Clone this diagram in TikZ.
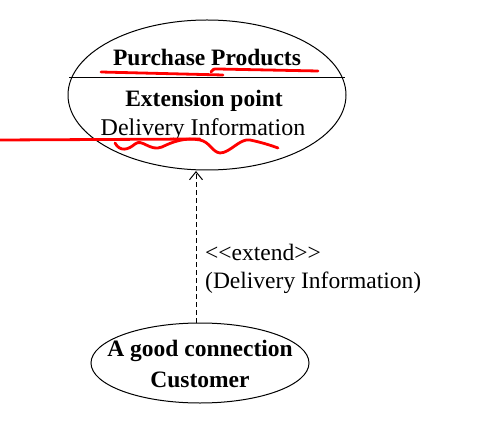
\documentclass[tikz,border=0pt]{standalone}
\usepackage{fontspec}
\setmainfont{Liberation Serif}
\usetikzlibrary{arrows.meta}
\begin{document}
\begin{tikzpicture}[x=1pt,y=-1pt,
  uc/.style={draw,line width=1pt},
  boldtxt/.style={font=\fontsize{23.5}{26}\selectfont\bfseries,inner sep=0pt},
  normtxt/.style={font=\fontsize{24}{27}\selectfont,inner sep=0pt},
  lbl/.style={font=\fontsize{23.5}{26}\selectfont,inner sep=0pt,anchor=west},
  redmark/.style={draw=red,line width=2.8pt,line cap=round,line join=round}]
\useasboundingbox (0,0) rectangle (478,438);
\fill[white] (0,0) rectangle (478,438);
% top use case
\draw[uc] (207,95) ellipse [x radius=139, y radius=75];
\coordinate (divL) at (69,78);
\coordinate (divR) at (345,78);
\draw[uc] (divL) -- (divR);
\node[boldtxt] (pp) at (207,57) {Purchase Products};
\node[boldtxt] (ep) at (204,101) {Extension point};
\node[normtxt] (di) at (203,130) {Delivery Information};
\coordinate (topB) at (196,171);
% bottom use case
\draw[uc] (200,363) ellipse [x radius=109, y radius=40];
\node[boldtxt] (gc) at (200,351) {A good connection};
\node[boldtxt] (cu) at (200,380) {Customer};
\coordinate (botT) at (196,323);
% extend
\draw[line width=1pt,dash pattern=on 5pt off 3pt,-{Straight Barb[length=8pt,width=13pt]}] (botT) -- (topB);
\node[lbl] (ext) at (205,252) {<{}<extend>{}>};
\node[lbl] (extd) at (205,283) {(Delivery Information)};
% red annotations
\draw[redmark] (101,72) -- (223,75);
\draw[redmark] (211,72) .. controls (213,69) .. (218,69) -- (318,71);
\draw[redmark] (0,140) -- (200,139);
\draw[redmark] (115,143) .. controls (120,152) and (128,150) .. (135,144)
  .. controls (142,138) and (150,152) .. (162,147)
  .. controls (172,142) and (185,137) .. (200,140)
  .. controls (210,142) and (212,152) .. (220,153)
  .. controls (230,153) and (240,138) .. (250,140)
  .. controls (260,142) and (270,145) .. (278,148);
\end{tikzpicture}
\end{document}
